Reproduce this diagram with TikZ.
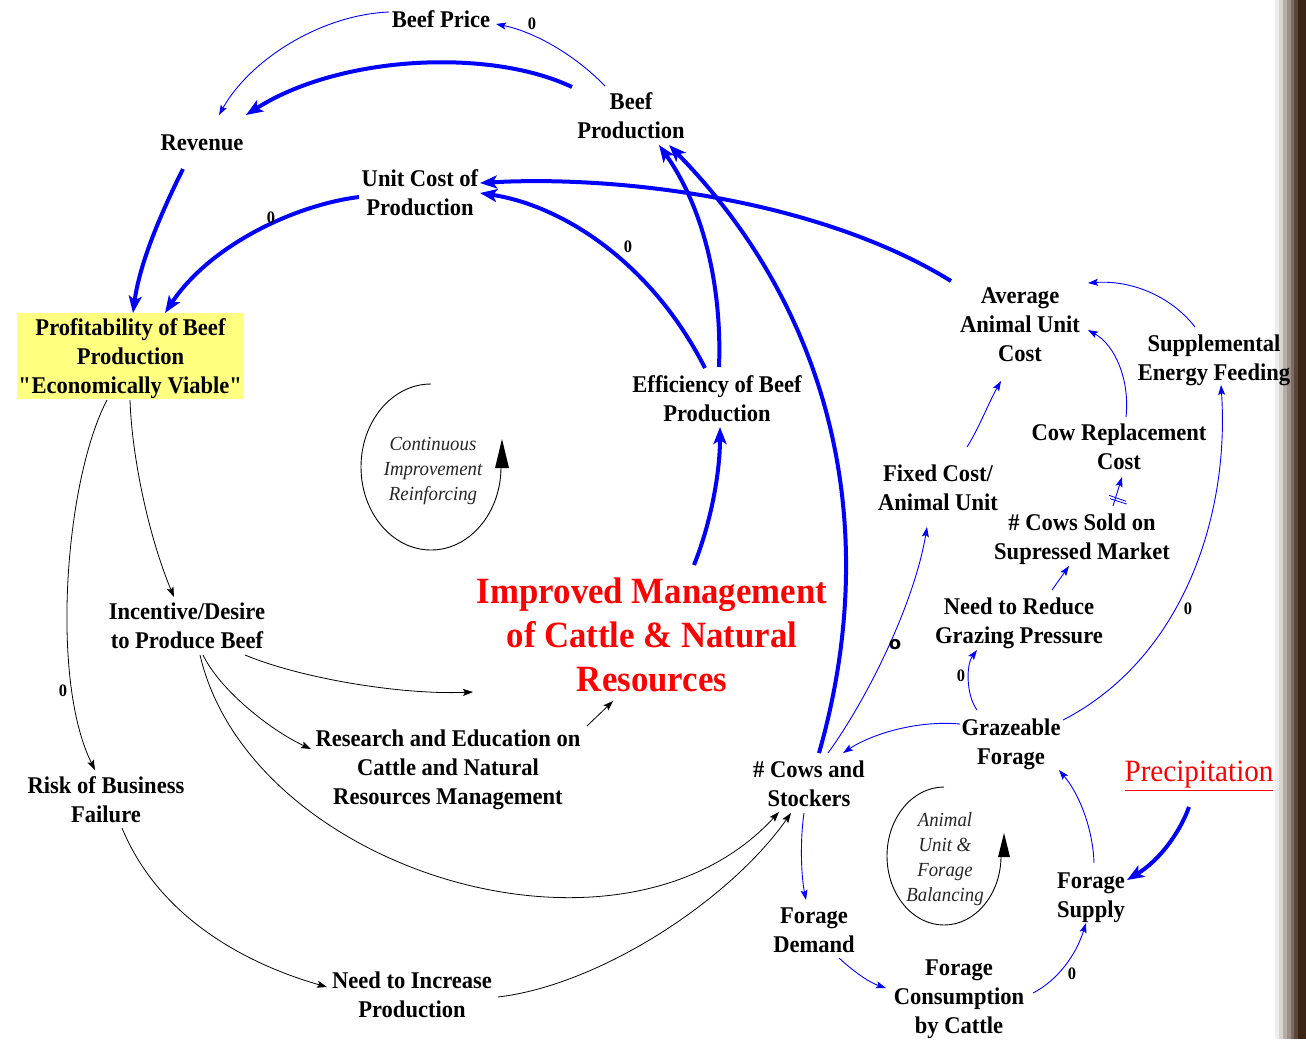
\documentclass[tikz,border=0pt]{standalone}
\usepackage{fontspec}
\setmainfont{Liberation Serif}[FakeStretch=0.94]
\newfontfamily\markfont{DejaVu Sans}
\usetikzlibrary{arrows.meta,calc}

\definecolor{boxyellow}{RGB}{255,255,128}
\definecolor{edgeA}{RGB}{238,238,238}
\definecolor{edgeB}{RGB}{217,213,211}
\definecolor{edgeC}{RGB}{181,173,168}
\definecolor{edgeD}{RGB}{156,144,138}
\definecolor{edgeE}{RGB}{123,107,98}
\definecolor{edgeF}{RGB}{91,70,56}
\definecolor{edgeG}{RGB}{59,36,21}

\begin{document}
\begin{tikzpicture}[x=1pt,y=-1pt,
  var/.style={font=\bfseries\fontsize{24}{29}\selectfont, align=center, inner sep=0pt, text depth=0pt, text=black},
  title/.style={font=\bfseries\fontsize{37}{44}\selectfont, align=center, inner sep=0pt, text depth=0pt, text=red},
  loopname/.style={font=\itshape\fontsize{20}{25}\selectfont, align=center, inner sep=0pt, text depth=0pt, text=black!85},
  heavy/.style={draw=blue, line width=4pt, -{Stealth[length=17pt,width=13pt,inset=4pt]}},
  light/.style={draw=blue, line width=0.9pt, -{Stealth[length=10pt,width=7pt,inset=2pt]}},
  plain/.style={draw=black, line width=0.8pt, -{Stealth[length=10pt,width=7pt,inset=2pt]}},
  zero/.style={font=\bfseries\fontsize{17.5}{17.5}\selectfont, inner sep=0pt},
  loopline/.style={draw=black, line width=0.9pt},
]
\useasboundingbox (0,0) rectangle (1306,1039);
\fill[white] (0,0) rectangle (1306,1039);

% dark frame edge on the right
\fill[edgeA] (1275,0) rectangle (1279,1039);
\fill[edgeB] (1279,0) rectangle (1283,1039);
\fill[edgeC] (1283,0) rectangle (1287,1039);
\fill[edgeD] (1287,0) rectangle (1291,1039);
\fill[edgeE] (1291,0) rectangle (1294,1039);
\fill[edgeF] (1294,0) rectangle (1298,1039);
\fill[edgeG] (1298,0) rectangle (1306,1039);

% variables
\node[var] (bp)    at (441,19)  {Beef Price};
\node[var] (bprod) at (631,116) {Beef\\Production};
\node[var] (rev)   at (202,143) {Revenue};
\node[var] (ucp)   at (420,193) {Unit Cost of\\Production};
\node[var, fill=boxyellow, minimum width=227pt, minimum height=86pt] (prof) at (130.5,356)
  {Profitability of Beef\\Production\\\textquotedbl Economically Viable\textquotedbl};
\node[var] (aauc)  at (1020,325) {Average\\Animal Unit\\Cost};
\node[var] (sef)   at (1214,358) {Supplemental\\Energy Feeding};
\node[var] (crc)   at (1119,447) {Cow Replacement\\Cost};
\node[var] (fca)   at (938,488)  {Fixed Cost/\\Animal Unit};
\node[var] (cso)   at (1082,537) {\# Cows Sold on\\Supressed Market};
\node[var] (eff)   at (717,399)  {Efficiency of Beef\\Production};
\node[title] (imp) at (652,635)  {Improved Management\\of Cattle \& Natural\\Resources};
\node[var] (inc)   at (187,626)  {Incentive/Desire\\to Produce Beef};
\node[var] (res)   at (448,767)  {Research and Education on\\Cattle and Natural\\Resources Management};
\node[var] (risk)  at (106,800)  {Risk of Business\\Failure};
\node[var] (nip)   at (412,995)  {Need to Increase\\Production};
\node[var] (nrg)   at (1019,621) {Need to Reduce\\Grazing Pressure};
\node[var] (cows)  at (809,784)  {\# Cows and\\Stockers};
\node[var] (graz)  at (1011,742) {Grazeable\\Forage};
\node[inner sep=0pt, text=red, font=\fontsize{31}{34}\selectfont] (prec) at (1199,776) {\underline{Precipitation}};
\node[var] (fsup)  at (1091,895) {Forage\\Supply};
\node[var] (fdem)  at (814,930)  {Forage\\Demand};
\node[var] (fcon)  at (959,997)  {Forage\\Consumption\\by Cattle};

% loop names and their circular markers
\node[loopname] (ci)   at (433,469) {Continuous\\Improvement\\Reinforcing};
\node[loopname] (aufb) at (945,857) {Animal\\Unit \&\\Forage\\Balancing};
\draw[loopline] ($(ci)+(-2,-85)$) arc[start angle=90, end angle=360, x radius=70pt, y radius=83pt];
\fill ($(ci)+(62,-1)$) -- ($(ci)+(76,-1)$) -- ($(ci)+(69,-30)$) -- cycle;
\draw[loopline] ($(aufb)+(-1,-70)$) arc[start angle=90, end angle=360, x radius=57pt, y radius=69pt];
\fill ($(aufb)+(53,0)$) -- ($(aufb)+(65,0)$) -- ($(aufb)+(59,-24)$) -- cycle;

% heavy links
\draw[heavy] ($(bprod)+(-59,-29)$) .. controls (490,48) and (340,55) .. ($(rev)+(44,-28)$);
\draw[heavy] ($(rev)+(-19,26)$) .. controls (165,205) and (140,260) .. ($(prof)+(2.5,-43)$);
\draw[heavy] ($(ucp)+(-61,4)$) .. controls (295,205) and (210,245) .. ($(prof)+(34.5,-43)$);
\node[zero] at (271,218) {0};
\draw[heavy] ($(aauc)+(-69,-44)$) .. controls (820,200) and (620,175) .. ($(ucp)+(60,-10)$);
\draw[heavy] ($(eff)+(-12,-31)$) .. controls (650,260) and (560,205) .. ($(ucp)+(60,0)$);
\node[zero] at (628,247) {0};
\draw[heavy] ($(eff)+(2,-32)$) .. controls (722,290) and (705,210) .. ($(bprod)+(28,29)$);
\draw[heavy] ($(cows)+(10,-31)$) .. controls (880,540) and (840,320) .. ($(bprod)+(38,29)$);
\draw[heavy] ($(imp)+(42,-70)$) .. controls (712,520) and (720,470) .. ($(eff)+(3,28)$);
\draw[heavy] ($(prec)+(-10,31)$) .. controls (1180,832) and (1160,860) .. ($(fsup)+(36,-15)$);

% light links
\draw[light] ($(bprod)+(-26,-30)$) .. controls (575,55) and (535,32) .. ($(bp)+(55,5)$);
\node[zero] at (532,24) {0};
\draw[light] ($(bp)+(-52,-7)$) .. controls (320,15) and (250,60) .. ($(rev)+(17,-28)$);
\draw[light] ($(sef)+(-19,-31)$) .. controls (1170,295) and (1130,280) .. ($(aauc)+(68,-42)$);
\draw[light] ($(crc)+(7,-30)$) .. controls (1130,380) and (1115,345) .. ($(aauc)+(68,5)$);
\draw[light] ($(fca)+(29,-41)$) .. controls (978,430) and (990,400) .. ($(aauc)+(-19,56)$);
\draw[light] ($(cso)+(31,-31)$) -- ($(crc)+(3,30)$);
\draw[blue, line width=0.8pt] (1109,495.3) -- (1126,501.3) (1110,498.7) -- (1126.7,504);
\draw[light] ($(nrg)+(33,-31)$) -- ($(cso)+(-13,29)$);
\draw[light] ($(graz)+(-34,-32)$) .. controls (966,695) and (966,665) .. ($(nrg)+(-42,29)$);
\node[zero] at (961,676) {0};
\draw[light] ($(graz)+(52,-22)$) .. controls (1180,660) and (1230,520) .. ($(sef)+(7,27)$);
\node[zero] at (1188,609) {0};
\draw[light] ($(graz)+(-51,-18)$) .. controls (915,720) and (870,735) .. ($(cows)+(34,-31)$);
\draw[light] ($(cows)+(19,-31)$) .. controls (870,695) and (915,600) .. ($(fca)+(-11,39)$);
\node[inner sep=0pt, font=\markfont\bfseries\fontsize{18}{18}\selectfont] at (895,645) {o};
\draw[light] ($(cows)+(-5,29)$) .. controls (800,840) and (801,875) .. ($(fdem)+(-8,-30)$);
\draw[light] ($(fdem)+(25,28)$) .. controls (852,970) and (868,982) .. ($(fcon)+(-73,-9)$);
\draw[light] ($(fcon)+(74,-4)$) .. controls (1058,980) and (1076,955) .. ($(fsup)+(-5,28)$);
\node[zero] at (1072,974) {0};
\draw[light] ($(fsup)+(3,-32)$) .. controls (1093,830) and (1080,795) .. ($(graz)+(48,28)$);

% plain links
\draw[plain] ($(prof)+(-0.5,44)$) .. controls (132,460) and (150,540) .. ($(inc)+(-13,-29)$);
\draw[plain] ($(prof)+(-23.5,44)$) .. controls (65,480) and (50,680) .. ($(risk)+(-11,-30)$);
\node[zero] at (63,691) {0};
\draw[plain] ($(inc)+(58,29)$) .. controls (300,678) and (400,695) .. ($(imp)+(-179,57)$);
\draw[plain] ($(inc)+(16,29)$) .. controls (220,690) and (270,730) .. ($(res)+(-137,-18)$);
\draw[plain] ($(inc)+(13,29)$) .. controls (250,870) and (620,985) .. ($(cows)+(-30,28)$);
\draw[plain] ($(res)+(139,-41)$) -- ($(imp)+(-39,66)$);
\draw[plain] ($(risk)+(16,28)$) .. controls (160,920) and (250,965) .. ($(nip)+(-85,-8)$);
\draw[plain] ($(nip)+(86,2)$) .. controls (600,985) and (730,900) .. ($(cows)+(-18,29)$);
\end{tikzpicture}
\end{document}
